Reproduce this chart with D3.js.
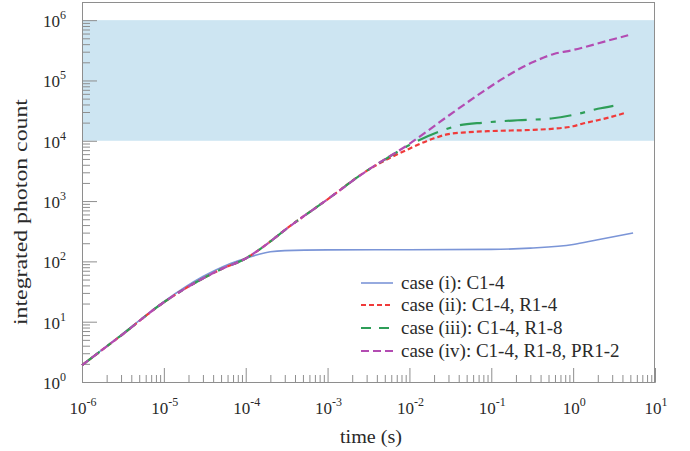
<!DOCTYPE html>
<html>
<head>
<meta charset="utf-8">
<script src="https://cdn.jsdelivr.net/npm/d3@7/dist/d3.min.js"></script>
<style>
  html, body { margin: 0; padding: 0; background: #fff; }
  svg { display: block; }
  text { font-family: "Liberation Serif", "Times New Roman", "DejaVu Serif", serif; fill: #2a2a2a; }
</style>
</head>
<body>
<svg id="chart" width="690" height="451"></svg>
<script>
// ---- data ----
const xTickExponents = [-6, -5, -4, -3, -2, -1, 0, 1];
const yTickExponents = [0, 1, 2, 3, 4, 5, 6];
const shadedBand = [1e4, 1e6];

const legendLabels = [
  "case (i): C1-4",
  "case (ii): C1-4, R1-4",
  "case (iii): C1-4, R1-8",
  "case (iv): C1-4, R1-8, PR1-2"
];

const caseI_t = [1e-6, 3e-6, 1e-5, 3e-5, 6e-5, 1e-4, 1.5e-4, 2e-4, 3e-4, 1e-3, 1e-2, 0.1, 0.3, 1, 2, 5.4];
const caseI_n = [1.9, 6.0, 21.5, 56, 88, 112, 133, 144, 151, 155, 156, 158, 166, 190, 229, 295];

const caseII_t = [1e-6, 3e-6, 1e-5, 3e-5, 5e-5, 1e-4, 2e-4, 3e-4, 1e-3, 3e-3, 0.005, 0.01, 0.02, 0.03, 0.05, 0.1, 0.3, 0.55, 1, 1.35, 2, 3, 4.5];
const caseII_n = [1.9, 5.9, 21, 52, 74, 112, 214, 330, 1070, 3160, 4700, 7400, 11000, 12900, 13800, 14500, 15100, 15800, 17400, 19500, 21900, 25100, 29500];

const caseIII_t = [1e-6, 3e-6, 1e-5, 3e-5, 5e-5, 1e-4, 2e-4, 3e-4, 1e-3, 3e-3, 0.005, 0.01, 0.022, 0.039, 0.081, 0.21, 0.54, 1.15, 2, 3.1];
const caseIII_n = [1.9, 5.9, 21, 52, 74, 112, 214, 330, 1070, 3160, 4900, 8500, 13800, 17800, 20000, 21900, 23400, 28000, 33900, 38000];

const caseIV_t = [1e-6, 3e-6, 1e-5, 3e-5, 5e-5, 1e-4, 2e-4, 3e-4, 1e-3, 3e-3, 0.01, 0.03, 0.08, 0.13, 0.33, 0.58, 1, 1.35, 2.5, 4.7];
const caseIV_n = [1.9, 5.9, 21, 52, 74, 112, 214, 330, 1070, 3160, 8900, 26000, 66000, 102000, 204000, 275000, 320000, 355000, 447000, 562000];

const seriesColors = ["#7b95d7", "#f03a3a", "#2e9e58", "#b34cb2"];
const seriesDash = [null, "5,3", "22,9,5,9", "8,4"];
const legendDash = [null, "5,3", "10,8", "8,4"];
const seriesWidth = [1.6, 2.2, 2.2, 2.2];

// ---- layout ----
const svg = d3.select("#chart");
const L = 82, R = 655, T = 2, B = 382;
const axisColor = "#8e8e8e";
const FONT = "'Liberation Serif', 'Times New Roman', 'DejaVu Serif', serif";

const x = d3.scaleLog().domain([1e-6, 10]).range([L, R]);
const y = d3.scaleLog().domain([1, 2e6]).range([B, T]);

// shaded band
svg.append("rect")
  .attr("x", L).attr("width", R - L)
  .attr("y", y(shadedBand[1])).attr("height", y(shadedBand[0]) - y(shadedBand[1]))
  .attr("fill", "#cde5f2");

// frame (top & right)
svg.append("line").attr("x1", L).attr("x2", R).attr("y1", T + 0.5).attr("y2", T + 0.5)
  .attr("stroke", axisColor).attr("stroke-width", 1);
svg.append("line").attr("x1", R - 0.5).attr("x2", R - 0.5).attr("y1", T).attr("y2", B)
  .attr("stroke", axisColor).attr("stroke-width", 1);

// tick values
const xMajor = xTickExponents.map(e => Math.pow(10, e));
const yMajor = yTickExponents.map(e => Math.pow(10, e));
const xMinor = [], yMinor = [];
xTickExponents.slice(0, -1).forEach(e => { for (let k = 2; k <= 9; k++) xMinor.push(k * Math.pow(10, e)); });
yTickExponents.slice(0, -1).forEach(e => { for (let k = 2; k <= 9; k++) yMinor.push(k * Math.pow(10, e)); });

function styleAxis(g) {
  g.select(".domain").attr("stroke", axisColor).attr("stroke-width", 1);
  g.selectAll(".tick line").attr("stroke", axisColor).attr("stroke-width", 1);
  g.selectAll(".tick text").remove();
}

// x axis (ticks pointing inward)
svg.append("g").attr("transform", `translate(0,${B})`)
  .call(d3.axisBottom(x).tickValues(xMinor).tickSizeInner(-7).tickSizeOuter(0).tickFormat(""))
  .call(styleAxis);
svg.append("g").attr("transform", `translate(0,${B})`)
  .call(d3.axisBottom(x).tickValues(xMajor).tickSizeInner(-14).tickSizeOuter(0).tickFormat(""))
  .call(styleAxis);

// y axis
svg.append("g").attr("transform", `translate(${L},0)`)
  .call(d3.axisLeft(y).tickValues(yMinor).tickSizeInner(-8).tickSizeOuter(0).tickFormat(""))
  .call(styleAxis);
svg.append("g").attr("transform", `translate(${L},0)`)
  .call(d3.axisLeft(y).tickValues(yMajor).tickSizeInner(-15).tickSizeOuter(0).tickFormat(""))
  .call(styleAxis);

// tick labels with superscripts
xTickExponents.forEach(e => {
  const t = svg.append("text")
    .attr("x", x(Math.pow(10, e)) + 1).attr("y", 414)
    .attr("text-anchor", "middle").attr("font-size", 17).attr("font-family", FONT);
  t.append("tspan").text("10");
  t.append("tspan").attr("dy", -8).attr("font-size", 12).text(String(e));
});
yTickExponents.forEach(e => {
  const t = svg.append("text")
    .attr("x", 66).attr("y", y(Math.pow(10, e)) + 7)
    .attr("text-anchor", "end").attr("font-size", 17).attr("font-family", FONT);
  t.append("tspan").text("10");
  t.append("tspan").attr("dy", -8).attr("font-size", 12).text(String(e));
});

// axis titles
svg.append("text").attr("x", 371).attr("y", 443).attr("text-anchor", "middle")
  .attr("font-size", 18).attr("font-family", FONT)
  .attr("textLength", 62).attr("lengthAdjust", "spacingAndGlyphs")
  .text("time (s)");
svg.append("text").attr("transform", "translate(27,212) rotate(-90)")
  .attr("text-anchor", "middle").attr("font-size", 18).attr("font-family", FONT)
  .attr("textLength", 226).attr("lengthAdjust", "spacingAndGlyphs")
  .text("integrated photon count");

// series
const allT = [caseI_t, caseII_t, caseIII_t, caseIV_t];
const allN = [caseI_n, caseII_n, caseIII_n, caseIV_n];
const line = d3.line().x(d => x(d[0])).y(d => y(d[1])).curve(d3.curveMonotoneX);

allT.forEach((ts, i) => {
  const pts = ts.map((t, j) => [t, allN[i][j]]);
  svg.append("path").datum(pts)
    .attr("d", line)
    .attr("fill", "none")
    .attr("stroke", seriesColors[i])
    .attr("stroke-width", seriesWidth[i])
    .attr("stroke-dasharray", seriesDash[i]);
});

// legend
const legendRows = [283, 305, 328, 351];
legendLabels.forEach((lab, i) => {
  const cy = legendRows[i];
  svg.append("line").attr("x1", 361).attr("x2", 393).attr("y1", cy).attr("y2", cy)
    .attr("stroke", seriesColors[i]).attr("stroke-width", seriesWidth[i])
    .attr("stroke-dasharray", legendDash[i]);
  svg.append("text").attr("x", 401).attr("y", cy + 6).attr("font-size", 19)
    .attr("font-family", FONT).text(lab);
});
</script>
</body>
</html>
